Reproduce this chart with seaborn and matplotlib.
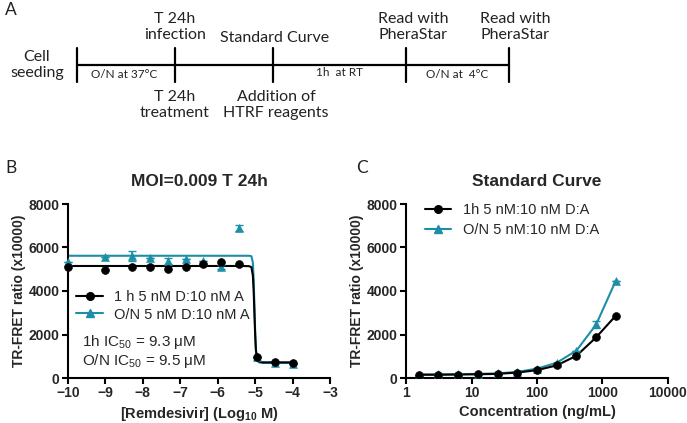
import numpy as np
import pandas as pd
import seaborn as sns
import matplotlib.pyplot as plt

# panel B data (log10 M)
conc_log = [-10, -9, -8.29, -7.82, -7.34, -6.86, -6.39, -5.91, -5.43, -4.95, -4.48, -4.0]
ratio_1h = [5100, 4980, 5120, 5100, 5000, 5100, 5250, 5350, 5250, 980, 720, 700]
ratio_on = [5350, 5560, 5600, 5500, 5380, 5450, 5400, 5100, 6900, 950, 700, 660]
err_on = [0, 0, 220, 0, 150, 0, 0, 80, 150, 0, 0, 0]

# fitted curves
fit_x = [-10, -5.3, -5.16, -5.1, -5.06, -5.04, -5.02, -5.0, -4.98, -4.95, -4.9, -4.8, -4.0]
fit_1h = [5150, 5150, 5140, 5100, 4700, 4000, 3000, 2000, 1300, 900, 760, 720, 720]
fit_on = [5620, 5620, 5620, 5600, 5300, 4500, 3400, 2200, 1300, 850, 720, 690, 690]

# panel C data
std_conc = [1.5625, 3.125, 6.25, 12.5, 25, 50, 100, 200, 400, 800, 1600]
std_1h = [150, 150, 160, 170, 190, 250, 360, 580, 1020, 1870, 2870]
std_on = [160, 165, 175, 190, 210, 280, 430, 700, 1260, 2460, 4480]
std_err_on = [0, 0, 0, 0, 0, 0, 0, 0, 0, 180, 0]

teal = '#1c8fa6'
lbl_b = ['1 h 5 nM D:10 nM A', 'O/N 5 nM D:10 nM A']
lbl_c = ['1h 5 nM:10 nM D:A', 'O/N 5 nM:10 nM D:A']

sns.set_style('ticks')
plt.rcParams['font.family'] = ['Liberation Sans', 'DejaVu Sans']
plt.rcParams['mathtext.fontset'] = 'custom'
plt.rcParams['mathtext.rm'] = 'Liberation Sans'
plt.rcParams['mathtext.bf'] = 'Liberation Sans:bold'

fig = plt.figure(figsize=(6.87, 4.23), dpi=100)

# ---- panel A: timeline ----
axa = fig.add_axes([0, 0, 1, 1])
axa.set_xlim(0, 687)
axa.set_ylim(423, 0)
axa.axis('off')
stops = [77, 175, 273, 406, 509]
axa.plot([stops[0], stops[-1]], [65, 65], color='black', lw=1.6)
for s in stops:
    axa.plot([s, s], [48, 82], color='black', lw=1.6)
fa = dict(family='Lato', fontsize=11.5, ha='center', color='#222222', linespacing=1.2)
axa.text(5, 10, 'A', family='Lato', fontsize=12.5, va='center', color='#222222')
axa.text(37, 65, 'Cell\nseeding', va='center', **fa)
axa.text(175, 27, 'T 24h\ninfection', va='center', **fa)
axa.text(275, 38, 'Standard Curve', va='center', **fa)
axa.text(413, 27, 'Read with\nPheraStar', va='center', **fa)
axa.text(515, 27, 'Read with\nPheraStar', va='center', **fa)
axa.text(175, 105, 'T 24h\ntreatment', va='center', **fa)
axa.text(276, 105, 'Addition of\nHTRF reagents', va='center', **fa)
fs = dict(family='Lato', fontsize=8.5, ha='center', va='center', color='#222222')
axa.text(124, 75, 'O/N at 37°C', **fs)
axa.text(340, 73, '1h  at RT', **fs)
axa.text(457, 75, 'O/N at  4°C', **fs)
axa.text(5, 168, 'B', family='Lato', fontsize=12.5, va='center', color='#222222')
axa.text(356, 168, 'C', family='Lato', fontsize=12.5, va='center', color='#222222')

# ---- panel B ----
axb = fig.add_axes([68 / 687, 45 / 423, 262 / 687, 174 / 423])
sns.lineplot(x=fit_x, y=fit_on, color=teal, lw=1.5, ax=axb)
sns.lineplot(x=fit_x, y=fit_1h, color='black', lw=1.5, ax=axb)
axb.errorbar(conc_log, ratio_on, yerr=err_on, fmt='none', ecolor=teal, elinewidth=1.2, capsize=3, clip_on=False)
sns.scatterplot(x=conc_log, y=ratio_on, marker='^', s=32, color=teal, edgecolor=teal, ax=axb, clip_on=False, zorder=3)
sns.scatterplot(x=conc_log, y=ratio_1h, marker='o', s=32, color='black', edgecolor='black', ax=axb, clip_on=False, zorder=4)
axb.plot([], [], color='black', marker='o', ms=5.5, lw=1.5, label=lbl_b[0])
axb.plot([], [], color=teal, marker='^', ms=5.5, lw=1.5, label=lbl_b[1])
axb.legend(loc='upper left', bbox_to_anchor=(0.01, 0.54), frameon=False, fontsize=10.5,
           handlelength=1.8, handletextpad=0.8, labelspacing=0.25, borderaxespad=0)
axb.text(0.055, 0.205, '1h IC$_{50}$ = 9.3 μM', transform=axb.transAxes, fontsize=11, va='center')
axb.text(0.055, 0.1, 'O/N IC$_{50}$ = 9.5 μM', transform=axb.transAxes, fontsize=11, va='center')
axb.set_xlim(-10, -3)
axb.set_ylim(0, 8000)
axb.set_xticks(range(-10, -2))
axb.set_yticks([0, 2000, 4000, 6000, 8000])
axb.set_title('MOI=0.009 T 24h', fontsize=12.5, fontweight='bold', pad=13)
axb.set_xlabel('[Remdesivir] (Log$_\\mathbf{10}$ M)', fontsize=10.5, fontweight='bold', labelpad=3)
axb.set_ylabel('TR-FRET ratio (x10000)', fontsize=10, fontweight='bold', labelpad=2)

# ---- panel C ----
axc = fig.add_axes([406 / 687, 45 / 423, 262 / 687, 174 / 423])
axc.set_xscale('log')
sns.lineplot(x=std_conc, y=std_on, color=teal, lw=1.5, ax=axc)
sns.lineplot(x=std_conc, y=std_1h, color='black', lw=1.5, ax=axc)
axc.errorbar(std_conc, std_on, yerr=std_err_on, fmt='none', ecolor=teal, elinewidth=1.2, capsize=3)
sns.scatterplot(x=std_conc, y=std_on, marker='^', s=32, color=teal, edgecolor=teal, ax=axc, zorder=3)
sns.scatterplot(x=std_conc, y=std_1h, marker='o', s=32, color='black', edgecolor='black', ax=axc, zorder=4)
axc.plot([], [], color='black', marker='o', ms=5.5, lw=1.5, label=lbl_c[0])
axc.plot([], [], color=teal, marker='^', ms=5.5, lw=1.5, label=lbl_c[1])
axc.legend(loc='upper left', bbox_to_anchor=(0.05, 1.04), frameon=False, fontsize=10.5,
           handlelength=1.8, handletextpad=0.8, labelspacing=0.45, borderaxespad=0)
axc.set_xlim(1, 10000)
axc.set_ylim(0, 8000)
axc.set_xticks([1, 10, 100, 1000, 10000])
axc.set_xticklabels(['1', '10', '100', '1000', '10000'])
axc.minorticks_off()
axc.set_yticks([0, 2000, 4000, 6000, 8000])
axc.set_title('Standard Curve', fontsize=12.5, fontweight='bold', pad=13)
axc.set_xlabel('Concentration (ng/mL)', fontsize=10.5, fontweight='bold', labelpad=3)
axc.set_ylabel('TR-FRET ratio (x10000)', fontsize=10, fontweight='bold', labelpad=2)

for ax in (axb, axc):
    sns.despine(ax=ax)
    for sp in ('left', 'bottom'):
        ax.spines[sp].set_linewidth(1.5)
        ax.spines[sp].set_color('black')
    ax.tick_params(width=1.5, length=4, labelsize=10, color='black', pad=2)
    for t in ax.get_xticklabels() + ax.get_yticklabels():
        t.set_fontweight('bold')

fig.savefig('out.png', dpi=100)
